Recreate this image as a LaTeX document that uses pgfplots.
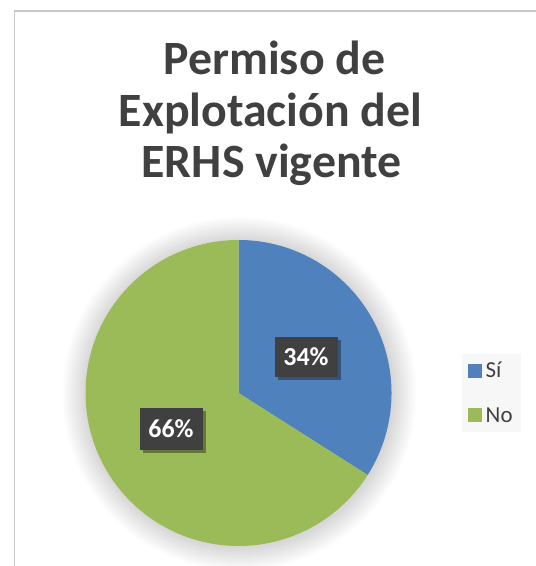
\documentclass[border=0pt]{standalone}
\usepackage{pgfplots}
\usepackage{pgfplotstable}
\usepackage{fontspec}
\setmainfont{Carlito}
\pgfplotsset{compat=1.18}
\definecolor{sliceblue}{HTML}{4F81BD}
\definecolor{slicegreen}{HTML}{9BBB59}
\definecolor{txtgray}{HTML}{404040}
\definecolor{boxgray}{HTML}{404040}
\definecolor{framegray}{HTML}{C8C8C8}

\pgfplotstableread{
name value
Si 34
No 66
}\piedata

\newcommand\legfont{\fontsize{23}{25}\selectfont}
\begin{document}
\pgfplotstablegetelem{0}{value}\of\piedata \let\va\pgfplotsretval
\pgfplotstablegetelem{1}{value}\of\piedata \let\vb\pgfplotsretval
\pgfmathsetmacro\angA{90-360*\va/(\va+\vb)}
\pgfmathsetmacro\angB{90-360}
\begin{tikzpicture}[x=1bp,y=1bp]
% frame (top and left visible)
\draw[framegray, line width=1.5bp] (10,-5) -- (10,555) -- (540,555);
% soft glow around pie
\foreach \k in {0,...,19}{
  \fill[black, opacity=0.006] (235,172) circle[radius={153+24-\k*1.2}];
}
\begin{axis}[
  at={(0,0)}, anchor=south west,
  scale only axis, width=531bp, height=566bp,
  xmin=0, xmax=531, ymin=0, ymax=566,
  axis lines=none, clip=false,
  legend style={at={(axis cs:457,212)}, anchor=north west,
    draw=none, fill=black!3, text=txtgray,
    row sep=24bp, inner xsep=6bp, inner ysep=6bp,
    cells={anchor=west}},
  legend image code/.code={\path (0bp,0bp) -- (16bp,0bp);\fill[#1, draw=none] (0bp,-7bp) rectangle (14bp,7bp);},
]
\addplot[fill=sliceblue, draw=none, domain=\angA:90, samples=120, variable=\t]
  ({234+153*cos(\t)},{173+153*sin(\t)}) -- (axis cs:234,173) -- cycle;
\addlegendentry{\legfont Sí}
\addplot[fill=slicegreen, draw=none, domain=\angB:\angA, samples=200, variable=\t]
  ({234+153*cos(\t)},{173+153*sin(\t)}) -- (axis cs:234,173) -- cycle;
\addlegendentry{\legfont No}

% data labels
\fill[black, opacity=0.35] (273,186) rectangle (336,226);
\fill[boxgray] (270,189) rectangle (333,229);
\node[text=white, font=\bfseries\fontsize{26}{28}\selectfont] at (axis cs:301.5,209) {\va\%};
\fill[black, opacity=0.35] (138,113) rectangle (201,155);
\fill[boxgray] (135,116) rectangle (198,158);
\node[text=white, font=\bfseries\fontsize{26}{28}\selectfont] at (axis cs:166.5,137) {\vb\%};

% title
\node[anchor=base, text=txtgray, font=\bfseries\fontsize{48}{52}\selectfont] at (axis cs:270,491) {Permiso de};
\node[anchor=base, text=txtgray, font=\bfseries\fontsize{48}{52}\selectfont] at (axis cs:266,439) {Explotación del};
\node[anchor=base, text=txtgray, font=\bfseries\fontsize{48}{52}\selectfont] at (axis cs:267,388) {ERHS vigente};
\end{axis}
\pgfresetboundingbox
\useasboundingbox (0,0) rectangle (531,566);
\end{tikzpicture}
\end{document}
